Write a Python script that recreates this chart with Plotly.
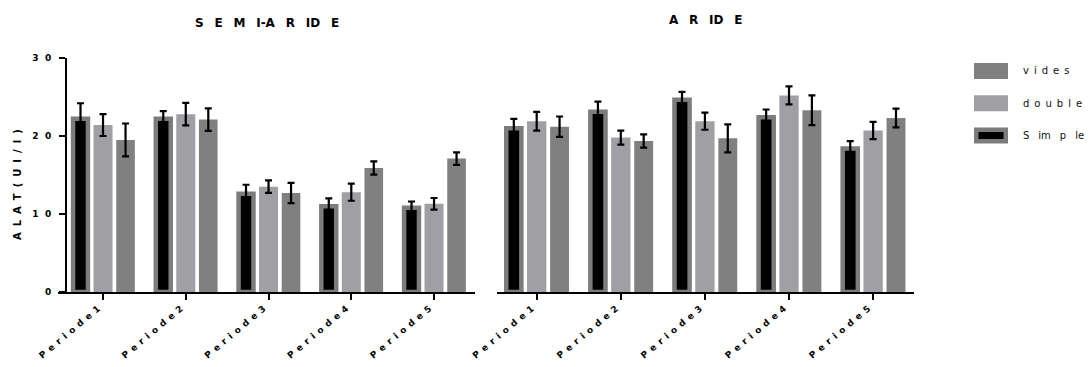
import plotly.graph_objects as go

# ---------------- data ----------------
periods = ["Periode1", "Periode2", "Periode3", "Periode4", "Periode5"]
series_names = ["Simple", "double", "vides"]

semi_simple = [22.2, 22.2, 12.6, 11.0, 10.8]
semi_simple_err = [2.0, 1.0, 1.15, 1.0, 0.8]
semi_double = [21.4, 22.8, 13.5, 12.8, 11.3]
semi_double_err = [1.4, 1.45, 0.8, 1.1, 0.75]
semi_vides = [19.5, 22.1, 12.7, 15.9, 17.1]
semi_vides_err = [2.1, 1.45, 1.3, 0.85, 0.8]

aride_simple = [21.0, 23.1, 24.65, 22.4, 18.4]
aride_simple_err = [1.2, 1.3, 1.0, 1.0, 0.95]
aride_double = [21.9, 19.8, 21.9, 25.2, 20.7]
aride_double_err = [1.2, 0.9, 1.1, 1.15, 1.1]
aride_vides = [21.2, 19.35, 19.7, 23.3, 22.3]
aride_vides_err = [1.3, 0.85, 1.8, 1.9, 1.2]

y_tickvals = [0, 10, 20, 30]
y_ticklabels = ["0", "1 0", "2 0", "3 0"]
panel_titles = ["S E M I-A R ID E", "A R ID E"]
y_title = "A L A T ( U I / l )"
legend_labels = {"vides": "v i d e s", "double": "d o u b l e", "Simple": "S  im  p  le"}

# ---------------- styling ----------------
EM = "\u2003"
EN = "\u2002"
THIN = "\u2009"
HAIR = "\u200a"


def spaced(s, gap, wide_gap=None):
    if wide_gap is not None:
        s = s.replace("  ", "\x00")
    s = s.replace(" ", gap)
    if wide_gap is not None:
        s = s.replace("\x00", wide_gap)
    return s


def spaced_all(s, gap):
    return gap.join(list(s))


W, H = 1089, 367
FONT = "DejaVu Sans, Verdana, sans-serif"
C_DOUBLE = "#a0a0a4"
C_VIDES = "#808080"
C_BORDER = "#7c7c7c"

slot = 0.272
styles = {
    "Simple": dict(color="#000000", line=dict(color=C_BORDER, width=4.5), width=0.18, pos=-1),
    "double": dict(color=C_DOUBLE, line=dict(width=0), width=0.23, pos=0),
    "vides": dict(color=C_VIDES, line=dict(width=0), width=0.225, pos=1),
}

panels = [
    ("x", "y", {"Simple": (semi_simple, semi_simple_err),
                "double": (semi_double, semi_double_err),
                "vides": (semi_vides, semi_vides_err)}),
    ("x2", "y2", {"Simple": (aride_simple, aride_simple_err),
                  "double": (aride_double, aride_double_err),
                  "vides": (aride_vides, aride_vides_err)}),
]

fig = go.Figure()
for xa, ya, data in panels:
    for name in series_names:
        vals, errs = data[name]
        st = styles[name]
        fig.add_trace(go.Bar(
            x=periods, y=vals, name=name, xaxis=xa, yaxis=ya,
            width=st["width"], offset=st["pos"] * slot - st["width"] / 2,
            marker=dict(color=st["color"], line=st["line"]),
            error_y=dict(type="data", array=errs, visible=True, color="#000000",
                         thickness=2.2, width=3.5),
            showlegend=False, hoverinfo="x+y",
        ))

ydom = [(367 - 292) / H, (367 - 58) / H]
cat_text = [spaced_all(p, EN) for p in periods]
xcommon = dict(
    type="category", showline=True, linecolor="#000", linewidth=2,
    ticks="outside", ticklen=6, tickwidth=2, tickcolor="#000",
    tickangle=-40, tickfont=dict(family=FONT, size=9, color="#000", weight="bold"),
    tickmode="array", tickvals=periods, ticktext=cat_text,
    ticklabelshift=-5,
    showgrid=False, zeroline=False, fixedrange=True, automargin=False,
)
fig.update_layout(
    template="none",
    width=W, height=H, margin=dict(l=0, r=0, t=0, b=0, pad=0),
    paper_bgcolor="white", plot_bgcolor="white",
    barmode="overlay", showlegend=False,
    xaxis=dict(domain=[58 / W, 475 / W], range=[-0.544, 4.495], anchor="y", **xcommon),
    xaxis2=dict(domain=[497 / W, 914 / W], range=[-0.472, 4.486], anchor="y2", **xcommon),
    yaxis=dict(domain=ydom, range=[0, 30], anchor="free", position=66 / W,
               showline=True, linecolor="#000", linewidth=2,
               ticks="outside", ticklen=6, tickwidth=2, tickcolor="#000",
               tickmode="array", tickvals=y_tickvals,
               ticktext=[spaced(t, EN + THIN) for t in y_ticklabels],
               tickfont=dict(family=FONT, size=9, color="#000", weight="bold"),
               ticklabelstandoff=6, automargin=False,
               showgrid=False, zeroline=False, fixedrange=True),
    yaxis2=dict(domain=ydom, range=[0, 30], anchor="x2", visible=False,
                fixedrange=True, automargin=False),
)

# titles
title_pos = [((58 + 475) / 2, 23), ((497 + 914) / 2, 20)]
for t, (px, py) in zip(panel_titles, title_pos):
    fig.add_annotation(text=spaced(t, EN + THIN + THIN), x=px / W, y=1 - py / H,
                       xref="paper", yref="paper",
                       showarrow=False, xanchor="center", yanchor="middle",
                       font=dict(family=FONT, size=12, color="#000", weight="bold"))

fig.add_annotation(text=spaced(y_title, EN + HAIR), x=17 / W, y=1 - 185 / H, xref="paper", yref="paper",
                   showarrow=False, textangle=-90, xanchor="center", yanchor="middle",
                   font=dict(family=FONT, size=10, color="#000", weight="bold"))

# legend (manual)
legend_order = ["vides", "double", "Simple"]
for i, name in enumerate(legend_order):
    cy = 71 + i * 32.3
    st = styles[name]
    lw = st["line"].get("width", 0)
    inset = lw / 2
    fig.add_shape(type="rect", xref="paper", yref="paper",
                  x0=(974 + inset) / W, x1=(1008 - inset) / W,
                  y0=1 - (cy - 8 + inset) / H, y1=1 - (cy + 8 - inset) / H,
                  fillcolor=st["color"],
                  line=dict(color=st["line"].get("color", st["color"]), width=lw))
    fig.add_annotation(text=spaced(legend_labels[name], EN, EN + THIN + THIN),
                       x=1021 / W, y=1 - cy / H,
                       xref="paper", yref="paper", showarrow=False,
                       xanchor="left", yanchor="middle",
                       font=dict(family=FONT, size=10, color="#111"))

fig.write_html("out.html")
